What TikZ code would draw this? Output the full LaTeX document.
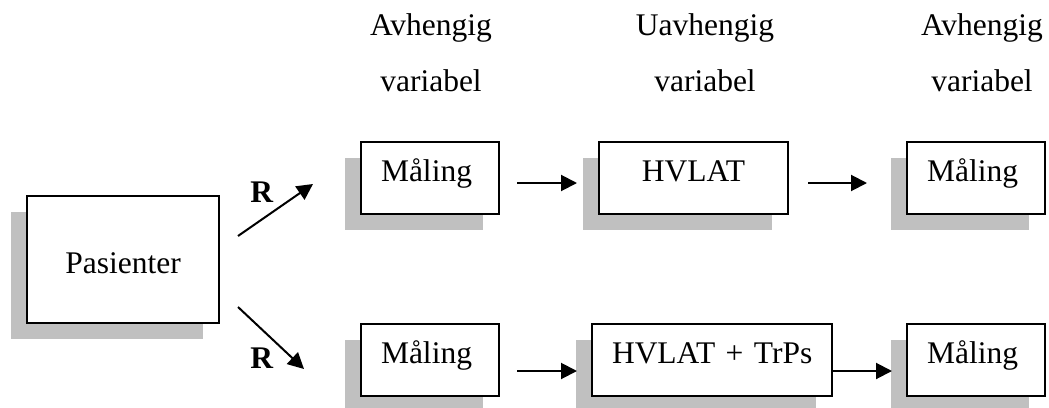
\documentclass[tikz,border=0pt]{standalone}
\usepackage{fontspec}
\setmainfont{Liberation Serif}
\usetikzlibrary{arrows.meta, shadows, positioning}
\definecolor{shadowgray}{RGB}{192,192,192}

\tikzset{
  box/.style={draw, line width=1pt, fill=white, inner xsep=10pt, inner ysep=0pt,
    text height=20pt, text depth=16pt, align=left,
    drop shadow={shadow xshift=-8pt, shadow yshift=-8pt, fill=shadowgray, opacity=1}},
  hdr/.style={anchor=north, align=center, inner sep=0pt},
  arr/.style={-{Triangle[length=8pt, width=8pt]}, line width=1pt},
}

\begin{document}
\begin{tikzpicture}[x=0.5pt, y=-0.5pt, on grid, font=\fontsize{15.75}{28}\selectfont]
   \useasboundingbox (0,0) rectangle (1049,407);

   \node[hdr] (hdrA) at (431,13.5) {Avhengig\\variabel};
   \node[hdr] (hdrU) at (705,13.5) {Uavhengig\\variabel};
   \node[hdr] (hdrB) at (982,13.5) {Avhengig\\variabel};

   \node[box, align=center, text width=76pt, text height=38.5pt, text depth=25pt] (pas) at (123,259.5) {Pasienter};

   \node[box, text width=49pt] (m1) at (430,177.5) {Måling};
   \node[box, align=center, text width=74.5pt] (h1) at (693.5,177.5) {HVLAT};
   \node[box, text width=49pt] (m3) at (976,177.5) {Måling};

   \node[box, text width=49pt] (m2) [below=91pt of m1] {Måling};
   \node[box, text width=100pt] (h2) at (712,359.5) {HVLAT~+~TrPs};
   \node[box, text width=49pt] (m4) [below=91pt of m3] {Måling};

   \node (r1) at (262,192) {\textbf{R}};
   \node (r2) at (262,358) {\textbf{R}};

   \draw[arr] ([xshift=9pt, yshift=11.75pt]pas.east) -- ([xshift=-23.5pt, yshift=-3.25pt]m1.west);
   \draw[arr] ([xshift=9pt, yshift=-23.75pt]pas.east) -- ([xshift=-28pt, yshift=-4.75pt]m2.west);

   \draw[arr] ([xshift=8.5pt, yshift=-2.75pt]m1.east) -- ([xshift=-10.5pt, yshift=-2.75pt]h1.west);
   \draw[arr] ([xshift=9.5pt, yshift=-2.75pt]h1.east) -- ([xshift=-19.5pt, yshift=-2.75pt]m3.west);
   \draw[arr] ([xshift=8.5pt, yshift=-5.75pt]m2.east) -- ([xshift=-7pt, yshift=-5.75pt]h2.west);
   \draw[arr] ([yshift=-5.75pt]h2.east) -- ([xshift=-7pt, yshift=-5.75pt]m4.west);

\end{tikzpicture}
\end{document}
